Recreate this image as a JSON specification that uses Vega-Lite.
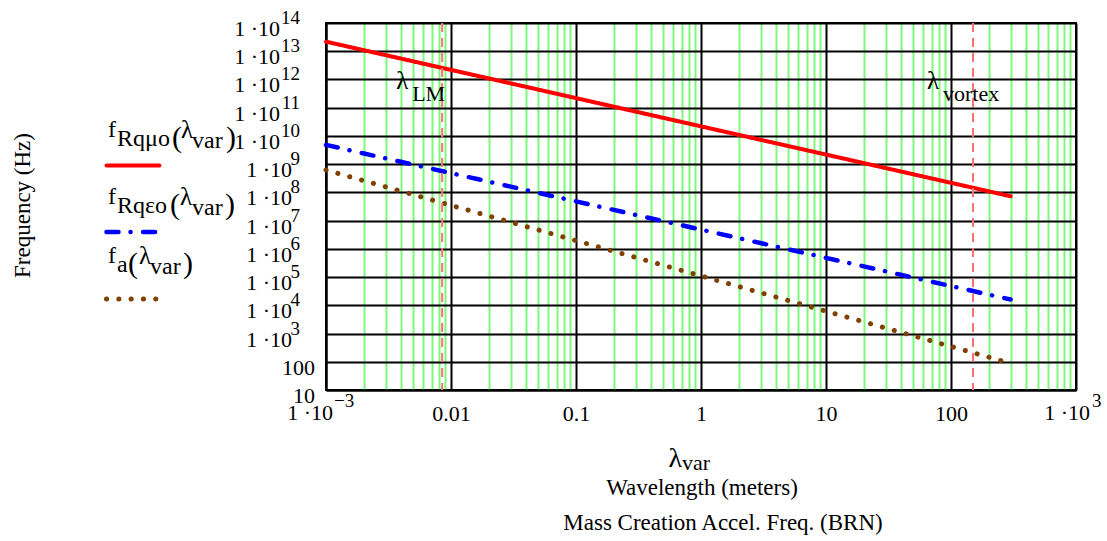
{
  "$schema": "https://vega.github.io/schema/vega-lite/v6.json",
  "width": 750,
  "height": 367,
  "autosize": {"type": "none"},
  "padding": {"left": 326, "top": 23, "right": 31, "bottom": 151},
  "background": "white",
  "config": {
    "font": "Liberation Serif",
    "view": {"stroke": "black", "strokeWidth": 2},
    "text": {"font": "Liberation Serif", "fontSize": 22, "color": "black"},
    "axis": {"labelFont": "Liberation Serif", "titleFont": "Liberation Serif"},
    "legend": {"labelFont": "Liberation Serif"}
  },
  "datasets": {
    "curves": [
      {"series": "fRqmuo", "lambda": 0.001, "freq": 2.18e13},
      {"series": "fRqmuo", "lambda": 0.01, "freq": 2.18e12},
      {"series": "fRqmuo", "lambda": 0.1, "freq": 2.18e11},
      {"series": "fRqmuo", "lambda": 1, "freq": 2.18e10},
      {"series": "fRqmuo", "lambda": 10, "freq": 2.18e9},
      {"series": "fRqmuo", "lambda": 100, "freq": 2.18e8},
      {"series": "fRqmuo", "lambda": 300, "freq": 7.27e7},
      {"series": "fRqeo", "lambda": 0.001, "freq": 4.8e9},
      {"series": "fRqeo", "lambda": 0.01, "freq": 4.8e8},
      {"series": "fRqeo", "lambda": 0.1, "freq": 4.8e7},
      {"series": "fRqeo", "lambda": 1, "freq": 4.8e6},
      {"series": "fRqeo", "lambda": 10, "freq": 4.8e5},
      {"series": "fRqeo", "lambda": 100, "freq": 4.8e4},
      {"series": "fRqeo", "lambda": 300, "freq": 1.6e4},
      {"series": "fa", "lambda": 0.001, "freq": 6.19e8},
      {"series": "fa", "lambda": 0.01, "freq": 3.48e7},
      {"series": "fa", "lambda": 0.1, "freq": 1.96e6},
      {"series": "fa", "lambda": 1, "freq": 1.1e5},
      {"series": "fa", "lambda": 10, "freq": 6190},
      {"series": "fa", "lambda": 100, "freq": 348},
      {"series": "fa", "lambda": 300, "freq": 88}
    ],
    "markers": [
      {"name": "LM", "lambda": 0.0085},
      {"name": "vortex", "lambda": 150}
    ],
    "ylabels": [
      {"v": 1e14, "base": "1 ·10", "exp": "14"},
      {"v": 1e13, "base": "1 ·10", "exp": "13"},
      {"v": 1e12, "base": "1 ·10", "exp": "12"},
      {"v": 1e11, "base": "1 ·10", "exp": "11"},
      {"v": 1e10, "base": "1 ·10", "exp": "10"},
      {"v": 1e9, "base": "1 ·10", "exp": "9"},
      {"v": 1e8, "base": "1 ·10", "exp": "8"},
      {"v": 1e7, "base": "1 ·10", "exp": "7"},
      {"v": 1e6, "base": "1 ·10", "exp": "6"},
      {"v": 1e5, "base": "1 ·10", "exp": "5"},
      {"v": 1e4, "base": "1 ·10", "exp": "4"},
      {"v": 1e3, "base": "1 ·10", "exp": "3"},
      {"v": 100, "base": "100", "exp": ""},
      {"v": 10, "base": "10", "exp": ""}
    ]
  },
  "layer": [
    {
      "data": {"name": "curves"},
      "mark": {"type": "line", "strokeCap": "round", "strokeJoin": "round"},
      "encoding": {
        "x": {
          "field": "lambda", "type": "quantitative",
          "scale": {"type": "log", "domain": [0.001, 1000], "nice": false},
          "axis": {
            "values": [0.001, 0.002, 0.003, 0.004, 0.005, 0.006, 0.007, 0.008, 0.009,
                       0.01, 0.02, 0.03, 0.04, 0.05, 0.06, 0.07, 0.08, 0.09,
                       0.1, 0.2, 0.3, 0.4, 0.5, 0.6, 0.7, 0.8, 0.9,
                       1, 2, 3, 4, 5, 6, 7, 8, 9,
                       10, 20, 30, 40, 50, 60, 70, 80, 90,
                       100, 200, 300, 400, 500, 600, 700, 800, 900, 1000],
            "grid": true,
            "gridColor": {"condition": {"test": "indexof([0.001, 0.01, 0.1, 1, 10, 100, 1000], datum.value) >= 0", "value": "black"}, "value": "#7CFA7C"},
            "gridWidth": 2,
            "ticks": false,
            "tickSize": 0,
            "domain": true, "domainColor": "black", "domainWidth": 2,
            "labelExpr": "datum.value == 0.01 ? '0.01' : datum.value == 0.1 ? '0.1' : datum.value == 1 ? '1' : datum.value == 10 ? '10' : datum.value == 100 ? '100' : ''",
            "labelFontSize": 22, "labelColor": "black",
            "labelBaseline": "alphabetic", "labelPadding": 30,
            "labelOverlap": false, "labelFlush": false, "labelBound": false,
            "title": null
          }
        },
        "y": {
          "field": "freq", "type": "quantitative",
          "scale": {"type": "log", "domain": [10, 1e14], "nice": false},
          "axis": {
            "values": [10, 100, 1000, 10000, 100000, 1000000, 10000000, 100000000, 1000000000, 10000000000, 100000000000, 1000000000000, 10000000000000, 100000000000000],
            "grid": true, "gridColor": "black", "gridWidth": 2,
            "ticks": false, "tickSize": 0,
            "domain": true, "domainColor": "black", "domainWidth": 2,
            "labels": false,
            "title": "Frequency (Hz)",
            "titleFontSize": 23, "titleFontWeight": "normal", "titleColor": "black",
            "titleX": -304, "titleY": 182, "titleAngle": 270,
            "titleAlign": "center", "titleBaseline": "middle"
          }
        },
        "color": {
          "field": "series", "type": "nominal",
          "scale": {"domain": ["fRqmuo", "fRqeo", "fa"], "range": ["#FF0000", "#0000FF", "#804000"]},
          "legend": {
            "orient": "none", "legendX": -222, "legendY": 114, "direction": "vertical",
            "title": null, "padding": 0, "offset": 0,
            "symbolType": "stroke", "symbolSize": 2809, "symbolStrokeWidth": 4.5,
            "labelExpr": "''", "labelFontSize": 1, "rowPadding": 29,
            "encode": {"symbols": {"update": {"strokeCap": {"value": "round"}}}}
          }
        },
        "strokeDash": {
          "field": "series", "type": "nominal",
          "scale": {"domain": ["fRqmuo", "fRqeo", "fa"], "range": [[1, 0], [12, 12, 0.1, 12.5], [0.1, 12.2]]},
          "legend": {
            "orient": "none", "legendX": -222, "legendY": 114, "direction": "vertical",
            "title": null, "padding": 0, "offset": 0,
            "symbolType": "stroke", "symbolSize": 2809, "symbolStrokeWidth": 4.5,
            "labelExpr": "''", "labelFontSize": 1, "rowPadding": 29,
            "encode": {"symbols": {"update": {"strokeCap": {"value": "round"}}}}
          }
        },
        "strokeWidth": {
          "field": "series", "type": "nominal",
          "scale": {"domain": ["fRqmuo", "fRqeo", "fa"], "range": [4, 5, 5]},
          "legend": null
        }
      }
    },
    {
      "data": {"name": "markers"},
      "mark": {"type": "rule", "color": "#FF7070", "strokeWidth": 2, "strokeDash": [9, 6]},
      "encoding": {"x": {"field": "lambda", "type": "quantitative"}}
    },
    {
      "data": {"name": "markers"},
      "mark": {"type": "text", "align": "left", "baseline": "alphabetic", "dx": -46, "dy": 66, "fontSize": 25, "text": "λ"},
      "encoding": {"x": {"field": "lambda", "type": "quantitative"}, "y": {"datum": 1e14, "type": "quantitative"}}
    },
    {
      "data": {"name": "markers"},
      "mark": {"type": "text", "align": "left", "baseline": "alphabetic", "dx": -30, "dy": 78, "fontSize": 22},
      "encoding": {"x": {"field": "lambda", "type": "quantitative"}, "y": {"datum": 1e14, "type": "quantitative"}, "text": {"field": "name"}}
    },
    {
      "data": {"name": "ylabels"},
      "transform": [{"filter": "length(datum.exp) == 2"}],
      "mark": {"type": "text", "align": "right", "baseline": "alphabetic", "dx": -46, "dy": 13, "fontSize": 22},
      "encoding": {"x": {"datum": 0.001, "type": "quantitative"}, "y": {"field": "v", "type": "quantitative"}, "text": {"field": "base"}}
    },
    {
      "data": {"name": "ylabels"},
      "transform": [{"filter": "length(datum.exp) == 1"}],
      "mark": {"type": "text", "align": "right", "baseline": "alphabetic", "dx": -34, "dy": 13, "fontSize": 22},
      "encoding": {"x": {"datum": 0.001, "type": "quantitative"}, "y": {"field": "v", "type": "quantitative"}, "text": {"field": "base"}}
    },
    {
      "data": {"name": "ylabels"},
      "transform": [{"filter": "length(datum.exp) == 0"}],
      "mark": {"type": "text", "align": "right", "baseline": "alphabetic", "dx": -11, "dy": 13, "fontSize": 22},
      "encoding": {"x": {"datum": 0.001, "type": "quantitative"}, "y": {"field": "v", "type": "quantitative"}, "text": {"field": "base"}}
    },
    {
      "data": {"name": "ylabels"},
      "transform": [{"filter": "length(datum.exp) > 0"}],
      "mark": {"type": "text", "align": "right", "baseline": "alphabetic", "dx": -26, "dy": 1, "fontSize": 19},
      "encoding": {"x": {"datum": 0.001, "type": "quantitative"}, "y": {"field": "v", "type": "quantitative"}, "text": {"field": "exp"}}
    },
    {
      "data": {"values": [{"t": "1 ·10"}]},
      "mark": {"type": "text", "align": "right", "baseline": "alphabetic", "dx": 7, "dy": 30, "fontSize": 22},
      "encoding": {"x": {"datum": 0.001, "type": "quantitative"}, "y": {"datum": 10, "type": "quantitative"}, "text": {"field": "t"}}
    },
    {
      "data": {"values": [{"t": "−3"}]},
      "mark": {"type": "text", "align": "left", "baseline": "alphabetic", "dx": 8, "dy": 17, "fontSize": 19},
      "encoding": {"x": {"datum": 0.001, "type": "quantitative"}, "y": {"datum": 10, "type": "quantitative"}, "text": {"field": "t"}}
    },
    {
      "data": {"values": [{"t": "1 ·10"}]},
      "mark": {"type": "text", "align": "right", "baseline": "alphabetic", "dx": 14, "dy": 30, "fontSize": 22},
      "encoding": {"x": {"datum": 1000, "type": "quantitative"}, "y": {"datum": 10, "type": "quantitative"}, "text": {"field": "t"}}
    },
    {
      "data": {"values": [{"t": "3"}]},
      "mark": {"type": "text", "align": "left", "baseline": "alphabetic", "dx": 16, "dy": 17, "fontSize": 19},
      "encoding": {"x": {"datum": 1000, "type": "quantitative"}, "y": {"datum": 10, "type": "quantitative"}, "text": {"field": "t"}}
    },
    {
      "data": {"values": [{"t": "λ"}]},
      "mark": {"type": "text", "align": "right", "baseline": "alphabetic", "dx": -19, "dy": 77, "fontSize": 28},
      "encoding": {"x": {"datum": 1, "type": "quantitative"}, "y": {"datum": 10, "type": "quantitative"}, "text": {"field": "t"}}
    },
    {
      "data": {"values": [{"t": "var"}]},
      "mark": {"type": "text", "align": "left", "baseline": "alphabetic", "dx": -19, "dy": 80, "fontSize": 22},
      "encoding": {"x": {"datum": 1, "type": "quantitative"}, "y": {"datum": 10, "type": "quantitative"}, "text": {"field": "t"}}
    },
    {
      "data": {"values": [{"t": "Wavelength (meters)"}]},
      "mark": {"type": "text", "align": "center", "baseline": "alphabetic", "dx": 1, "dy": 105, "fontSize": 23},
      "encoding": {"x": {"datum": 1, "type": "quantitative"}, "y": {"datum": 10, "type": "quantitative"}, "text": {"field": "t"}}
    },
    {
      "data": {"values": [{"t": "Mass Creation Accel. Freq. (BRN)"}]},
      "mark": {"type": "text", "align": "center", "baseline": "alphabetic", "dx": 22, "dy": 140, "fontSize": 23},
      "encoding": {"x": {"datum": 1, "type": "quantitative"}, "y": {"datum": 10, "type": "quantitative"}, "text": {"field": "t"}}
    },
    {
      "data": {"values": [{"t": "f"}]},
      "mark": {"type": "text", "align": "left", "baseline": "alphabetic", "dx": -218, "dy": 114, "fontSize": 24},
      "encoding": {"x": {"datum": 0.001, "type": "quantitative"}, "y": {"datum": 1e14, "type": "quantitative"}, "text": {"field": "t"}}
    },
    {
      "data": {"values": [{"t": "Rqμo"}]},
      "mark": {"type": "text", "align": "left", "baseline": "alphabetic", "dx": -209, "dy": 123, "fontSize": 24},
      "encoding": {"x": {"datum": 0.001, "type": "quantitative"}, "y": {"datum": 1e14, "type": "quantitative"}, "text": {"field": "t"}}
    },
    {
      "data": {"values": [{"t": "("}]},
      "mark": {"type": "text", "align": "left", "baseline": "alphabetic", "dx": -154, "dy": 124, "fontSize": 30},
      "encoding": {"x": {"datum": 0.001, "type": "quantitative"}, "y": {"datum": 1e14, "type": "quantitative"}, "text": {"field": "t"}}
    },
    {
      "data": {"values": [{"t": "λ"}]},
      "mark": {"type": "text", "align": "left", "baseline": "alphabetic", "dx": -145, "dy": 115, "fontSize": 25},
      "encoding": {"x": {"datum": 0.001, "type": "quantitative"}, "y": {"datum": 1e14, "type": "quantitative"}, "text": {"field": "t"}}
    },
    {
      "data": {"values": [{"t": "var"}]},
      "mark": {"type": "text", "align": "left", "baseline": "alphabetic", "dx": -134, "dy": 125, "fontSize": 24},
      "encoding": {"x": {"datum": 0.001, "type": "quantitative"}, "y": {"datum": 1e14, "type": "quantitative"}, "text": {"field": "t"}}
    },
    {
      "data": {"values": [{"t": ")"}]},
      "mark": {"type": "text", "align": "left", "baseline": "alphabetic", "dx": -100, "dy": 124, "fontSize": 30},
      "encoding": {"x": {"datum": 0.001, "type": "quantitative"}, "y": {"datum": 1e14, "type": "quantitative"}, "text": {"field": "t"}}
    },
    {
      "data": {"values": [{"t": "f"}]},
      "mark": {"type": "text", "align": "left", "baseline": "alphabetic", "dx": -218, "dy": 181, "fontSize": 24},
      "encoding": {"x": {"datum": 0.001, "type": "quantitative"}, "y": {"datum": 1e14, "type": "quantitative"}, "text": {"field": "t"}}
    },
    {
      "data": {"values": [{"t": "Rqεo"}]},
      "mark": {"type": "text", "align": "left", "baseline": "alphabetic", "dx": -209, "dy": 190, "fontSize": 24},
      "encoding": {"x": {"datum": 0.001, "type": "quantitative"}, "y": {"datum": 1e14, "type": "quantitative"}, "text": {"field": "t"}}
    },
    {
      "data": {"values": [{"t": "("}]},
      "mark": {"type": "text", "align": "left", "baseline": "alphabetic", "dx": -156, "dy": 191, "fontSize": 30},
      "encoding": {"x": {"datum": 0.001, "type": "quantitative"}, "y": {"datum": 1e14, "type": "quantitative"}, "text": {"field": "t"}}
    },
    {
      "data": {"values": [{"t": "λ"}]},
      "mark": {"type": "text", "align": "left", "baseline": "alphabetic", "dx": -146, "dy": 182, "fontSize": 25},
      "encoding": {"x": {"datum": 0.001, "type": "quantitative"}, "y": {"datum": 1e14, "type": "quantitative"}, "text": {"field": "t"}}
    },
    {
      "data": {"values": [{"t": "var"}]},
      "mark": {"type": "text", "align": "left", "baseline": "alphabetic", "dx": -134, "dy": 192, "fontSize": 24},
      "encoding": {"x": {"datum": 0.001, "type": "quantitative"}, "y": {"datum": 1e14, "type": "quantitative"}, "text": {"field": "t"}}
    },
    {
      "data": {"values": [{"t": ")"}]},
      "mark": {"type": "text", "align": "left", "baseline": "alphabetic", "dx": -101, "dy": 191, "fontSize": 30},
      "encoding": {"x": {"datum": 0.001, "type": "quantitative"}, "y": {"datum": 1e14, "type": "quantitative"}, "text": {"field": "t"}}
    },
    {
      "data": {"values": [{"t": "f"}]},
      "mark": {"type": "text", "align": "left", "baseline": "alphabetic", "dx": -218, "dy": 240, "fontSize": 24},
      "encoding": {"x": {"datum": 0.001, "type": "quantitative"}, "y": {"datum": 1e14, "type": "quantitative"}, "text": {"field": "t"}}
    },
    {
      "data": {"values": [{"t": "a"}]},
      "mark": {"type": "text", "align": "left", "baseline": "alphabetic", "dx": -209, "dy": 249, "fontSize": 24},
      "encoding": {"x": {"datum": 0.001, "type": "quantitative"}, "y": {"datum": 1e14, "type": "quantitative"}, "text": {"field": "t"}}
    },
    {
      "data": {"values": [{"t": "("}]},
      "mark": {"type": "text", "align": "left", "baseline": "alphabetic", "dx": -198, "dy": 250, "fontSize": 30},
      "encoding": {"x": {"datum": 0.001, "type": "quantitative"}, "y": {"datum": 1e14, "type": "quantitative"}, "text": {"field": "t"}}
    },
    {
      "data": {"values": [{"t": "λ"}]},
      "mark": {"type": "text", "align": "left", "baseline": "alphabetic", "dx": -187, "dy": 241, "fontSize": 25},
      "encoding": {"x": {"datum": 0.001, "type": "quantitative"}, "y": {"datum": 1e14, "type": "quantitative"}, "text": {"field": "t"}}
    },
    {
      "data": {"values": [{"t": "var"}]},
      "mark": {"type": "text", "align": "left", "baseline": "alphabetic", "dx": -176, "dy": 251, "fontSize": 24},
      "encoding": {"x": {"datum": 0.001, "type": "quantitative"}, "y": {"datum": 1e14, "type": "quantitative"}, "text": {"field": "t"}}
    },
    {
      "data": {"values": [{"t": ")"}]},
      "mark": {"type": "text", "align": "left", "baseline": "alphabetic", "dx": -143, "dy": 250, "fontSize": 30},
      "encoding": {"x": {"datum": 0.001, "type": "quantitative"}, "y": {"datum": 1e14, "type": "quantitative"}, "text": {"field": "t"}}
    }
  ]
}
